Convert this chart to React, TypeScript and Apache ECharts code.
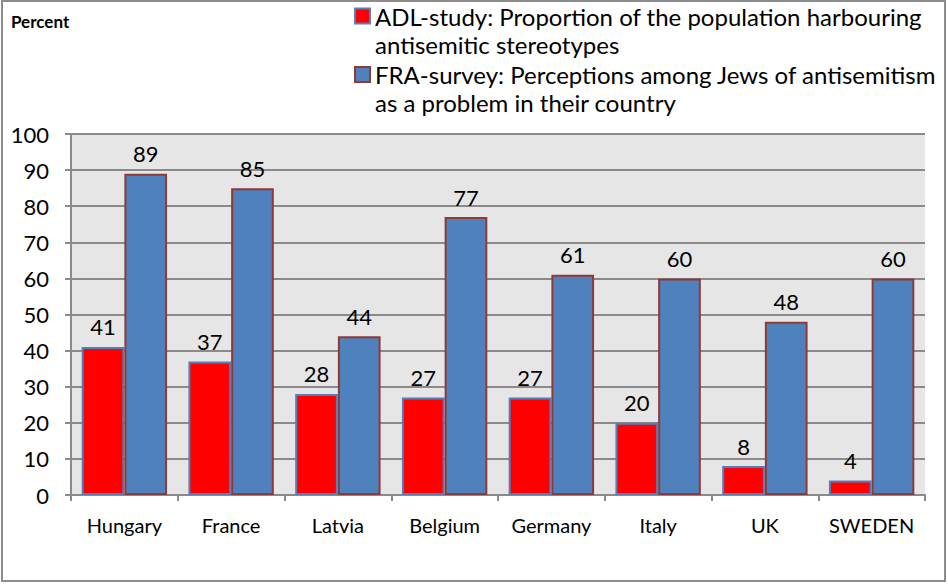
import React, { useEffect, useRef } from "react";
import * as echarts from "echarts";

const categories = ["Hungary", "France", "Latvia", "Belgium", "Germany", "Italy", "UK", "SWEDEN"];
const adlValues = [41, 37, 28, 27, 27, 20, 8, 4];
const fraValues = [89, 85, 44, 77, 61, 60, 48, 60];
const adlName = "ADL-study: Proportion of the population harbouring\nantisemitic stereotypes";
const fraName = "FRA-survey: Perceptions among Jews of antisemitism\nas a problem in their country";
const yTicks = { min: 0, max: 100, interval: 10 };

const FONT = "Lato, 'Open Sans', sans-serif";

export default function App() {
  const ref = useRef<HTMLDivElement>(null);
  useEffect(() => {
    if (!ref.current) return;
    const chart = echarts.init(ref.current, null, { renderer: "svg" });
    const gray = "#8a8a8a";
    chart.setOption({
      animation: false,
      backgroundColor: "#ffffff",
      textStyle: { fontFamily: FONT, color: "#000" },
      title: {
        text: "Percent",
        left: 6,
        top: 8,
        textStyle: { fontSize: 17, fontWeight: "bold", color: "#000", fontFamily: FONT },
      },
      graphic: [
        {
          type: "rect",
          shape: { x: 2, y: 1, width: 943, height: 580 },
          style: { fill: "none", stroke: "#8c8c8c", lineWidth: 2 },
          silent: true,
        },
      ],
      legend: {
        orient: "vertical",
        left: 354,
        top: -26,
        padding: 0,
        icon: "rect",
        itemWidth: 15,
        itemHeight: 15,
        itemGap: -25.5,
        data: [adlName, fraName],
        formatter: (name: string) => "\n" + name,
        textStyle: {
          fontSize: 24,
          lineHeight: 28,
          color: "#000",
          fontFamily: FONT,
        },
      },
      grid: {
        left: 71,
        right: 23,
        top: 134,
        bottom: 89,
        show: true,
        backgroundColor: "#e6e6e6",
        borderWidth: 0,
      },
      xAxis: {
        type: "category",
        data: categories,
        axisLine: { show: true, lineStyle: { color: gray, width: 2 } },
        axisTick: { show: true, length: 6, lineStyle: { color: gray, width: 2 } },
        axisLabel: { interval: 0, hideOverlap: false, fontSize: 20, color: "#000", margin: 20, fontFamily: FONT },
      },
      yAxis: {
        type: "value",
        min: yTicks.min,
        max: yTicks.max,
        interval: yTicks.interval,
        axisLine: { show: true, lineStyle: { color: gray, width: 2 } },
        axisTick: { show: true, length: 6, lineStyle: { color: gray, width: 2 } },
        axisLabel: { fontSize: 22, color: "#000", margin: 22, fontFamily: FONT },
        splitLine: { show: true, lineStyle: { color: gray, width: 2 } },
      },
      series: [
        {
          name: adlName,
          type: "bar",
          data: adlValues,
          barGap: "0%",
          barCategoryGap: "20%",
          itemStyle: { color: "#ff0000", borderColor: "#4f81bd", borderWidth: 2 },
          label: { show: true, position: "top", distance: 9, fontSize: 22, color: "#000", fontFamily: FONT },
        },
        {
          name: fraName,
          type: "bar",
          data: fraValues,
          barGap: "0%",
          barCategoryGap: "20%",
          itemStyle: { color: "#4f81bd", borderColor: "#8e3b38", borderWidth: 2 },
          label: { show: true, position: "top", distance: 9, fontSize: 22, color: "#000", fontFamily: FONT },
        },
      ],
    });
    return () => chart.dispose();
  }, []);
  return (
    <div
      ref={ref}
      style={{ position: "fixed", left: 0, top: 0, width: 948, height: 584 }}
    />
  );
}
